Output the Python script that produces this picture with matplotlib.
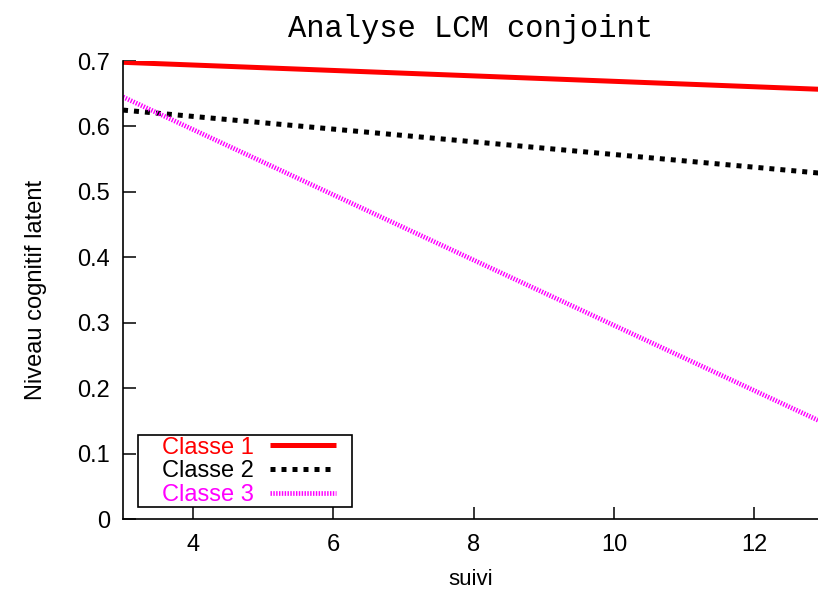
import matplotlib
matplotlib.use("Agg")
import matplotlib.pyplot as plt
from matplotlib.patches import Rectangle

# linear trajectories of the latent cognitive level, by class
suivi = [3, 13]
classe1 = [0.698, 0.6565]
classe2 = [0.625, 0.528]
classe3 = [0.645, 0.1465]

labels = ["Classe 1", "Classe 2", "Classe 3"]
colors = ["#ff0000", "#000000", "#ff00ff"]

xticks = [4, 6, 8, 10, 12]
yticks = [0, 0.1, 0.2, 0.3, 0.4, 0.5, 0.6, 0.7]
yticklabels = ["0", "0.1", "0.2", "0.3", "0.4", "0.5", "0.6", "0.7"]

plt.rcParams["font.family"] = ["Liberation Sans", "DejaVu Sans"]

fig = plt.figure(figsize=(8.18, 5.92), dpi=100)
ax = fig.add_axes([123 / 818, 73 / 592, 695 / 818, 458 / 592])

l1, = ax.plot(suivi, classe1, color=colors[0], lw=3.6, solid_capstyle="butt")
l2, = ax.plot(suivi, classe2, color=colors[1], lw=3.6, dashes=(1.0, 1.2),
              dash_capstyle="butt")
l3, = ax.plot(suivi, classe3, color=colors[2], lw=3.4, dashes=(0.3, 0.3),
              dash_capstyle="butt")

ax.set_xlim(3, 12.91)
ax.set_ylim(0, 0.7)
ax.set_xticks(xticks)
ax.set_yticks(yticks)
ax.set_yticklabels(yticklabels)

for s in ["top", "right"]:
    ax.spines[s].set_visible(False)
for s in ["left", "bottom"]:
    ax.spines[s].set_linewidth(1.2)

ax.tick_params(axis="both", direction="in", length=9, width=1.1,
               labelsize=17)
ax.tick_params(axis="x", pad=11)
ax.tick_params(axis="y", pad=9.5)

ax.set_xlabel("suivi", fontsize=16, labelpad=9)
ax.set_ylabel("Niveau cognitif latent", fontsize=17, labelpad=21.5)
ax.set_title("Analyse LCM conjoint", family=["Liberation Mono", "DejaVu Sans Mono"],
             fontsize=22, pad=17)

# legend: text first, sample line after, boxed like gnuplot's key
leg = ax.legend([l1, l2, l3], labels, loc="lower left",
                bbox_to_anchor=(38 / 695, 12 / 458), fontsize=17, frameon=False,
                markerfirst=False, handlelength=2.8, handletextpad=0.68,
                borderpad=0.05, labelspacing=0.07, borderaxespad=0)
for txt, c in zip(leg.get_texts(), colors):
    txt.set_color(c)

fig.canvas.draw()
bb = leg.get_window_extent().transformed(fig.transFigure.inverted())
dx_left = 23 / 818
dx_right = 15 / 818
frame = Rectangle((bb.x0 - dx_left, bb.y0), bb.width + dx_left + dx_right, bb.height,
                  transform=fig.transFigure, fill=False, edgecolor="black",
                  linewidth=1.2, zorder=5)
fig.patches.append(frame)

fig.savefig("out.png", dpi=100)
